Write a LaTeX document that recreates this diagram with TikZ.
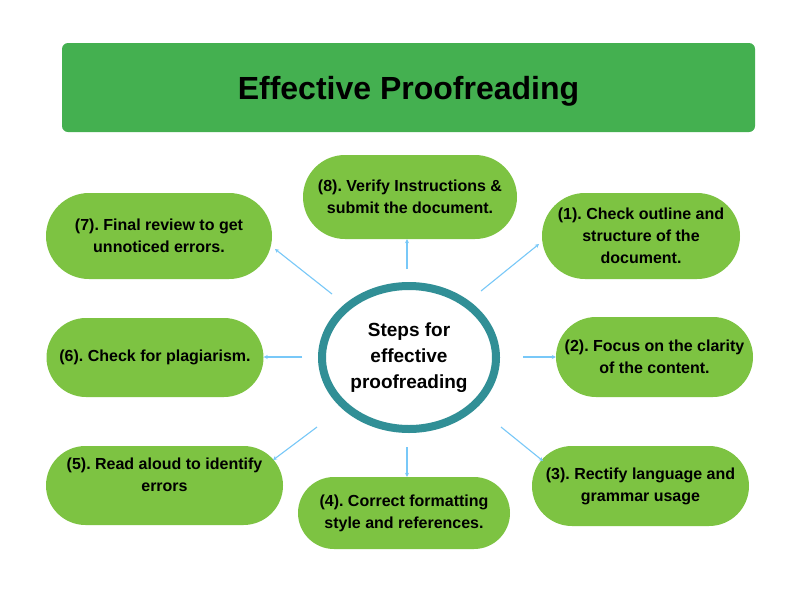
\documentclass[tikz,border=0pt]{standalone}
\usepackage{fontspec}
\setmainfont{Liberation Sans}
\usetikzlibrary{shapes.geometric,arrows.meta}
\definecolor{titlegreen}{RGB}{68,176,80}
\definecolor{nodegreen}{RGB}{125,195,66}
\definecolor{ringteal}{RGB}{49,143,150}
\definecolor{arrowblue}{RGB}{120,200,248}
\frenchspacing
\begin{document}
\begin{tikzpicture}[x=1pt,y=-1pt,
  pill/.style={rectangle, fill=nodegreen, align=center, inner sep=0pt,
    font=\fontsize{16}{22}\selectfont\bfseries},
  arr/.style={draw=arrowblue, line width=1.1pt, -{Stealth[length=4pt,width=4pt]}}]
\useasboundingbox (0,0) rectangle (800,592);
\fill[white] (0,0) rectangle (800,592);

\node[fill=titlegreen, rounded corners=6pt, minimum width=693pt, minimum height=89pt,
  inner sep=0pt, text depth=0pt, font=\fontsize{32}{38}\selectfont\bfseries] (title) at (408.5,87.5) {Effective Proofreading};

\node[ellipse, draw=ringteal, line width=8pt, fill=white, minimum width=174pt, minimum height=143pt,
  inner sep=0pt, align=center, font=\fontsize{19}{26}\selectfont\bfseries] (c) at (409,357.5)
  {Steps for\\effective\\proofreading};

\node[pill, minimum width=214pt, minimum height=84pt, rounded corners=42pt] (n8) at (410,197)
  {(8). Verify Instructions \&\\submit the document.};
\node[pill, minimum width=226pt, minimum height=86pt, rounded corners=43pt] (n7) at (159,236)
  {(7). Final review to get\\unnoticed errors.};
\node[pill, minimum width=198pt, minimum height=86pt, rounded corners=43pt] (n1) at (641,236)
  {(1). Check outline and\\structure of the\\document.};
\node[pill, minimum width=217pt, minimum height=79pt, rounded corners=39.5pt] (n6) at (155,357.5)
  {(6). Check for plagiarism.};
\node[pill, minimum width=197pt, minimum height=80pt, rounded corners=40pt] (n2) at (654.5,357)
  {(2). Focus on the clarity\\of the content.};
\node[pill, minimum width=237pt, minimum height=79pt, rounded corners=39.5pt] (n5) at (164.5,485.5)
  {(5). Read aloud to identify\\errors\\\mbox{}};
\node[pill, minimum width=212pt, minimum height=72pt, rounded corners=36pt] (n4) at (404,513)
  {(4). Correct formatting\\style and references.};
\node[pill, minimum width=217pt, minimum height=80pt, rounded corners=40pt] (n3) at (640.5,486)
  {(3). Rectify language and\\grammar usage};

\coordinate (s8) at (407,269);
\coordinate (s7) at (332,294);
\coordinate (s1) at (481,291);
\coordinate (s6) at (302,357);
\coordinate (s2) at (523,357);
\coordinate (s5) at (317,427);
\coordinate (s3) at (501,427);
\coordinate (s4) at (407,447);

\draw[arr] (s8) -- (s8 |- n8.south);
\draw[arr] (s4) -- (s4 |- n4.north);
\draw[arr] (s6) -- (s6 -| n6.east);
\draw[arr] (s2) -- (s2 -| n2.west);
\draw[arr] (s7) -- ([shift={(116,13)}]n7.center);
\draw[arr] (s1) -- ([shift={(-102,8)}]n1.center);
\draw[arr] (s5) -- ([shift={(108.5,-25.5)}]n5.center);
\draw[arr] (s3) -- ([shift={(-97.5,-25)}]n3.center);
\end{tikzpicture}
\end{document}
